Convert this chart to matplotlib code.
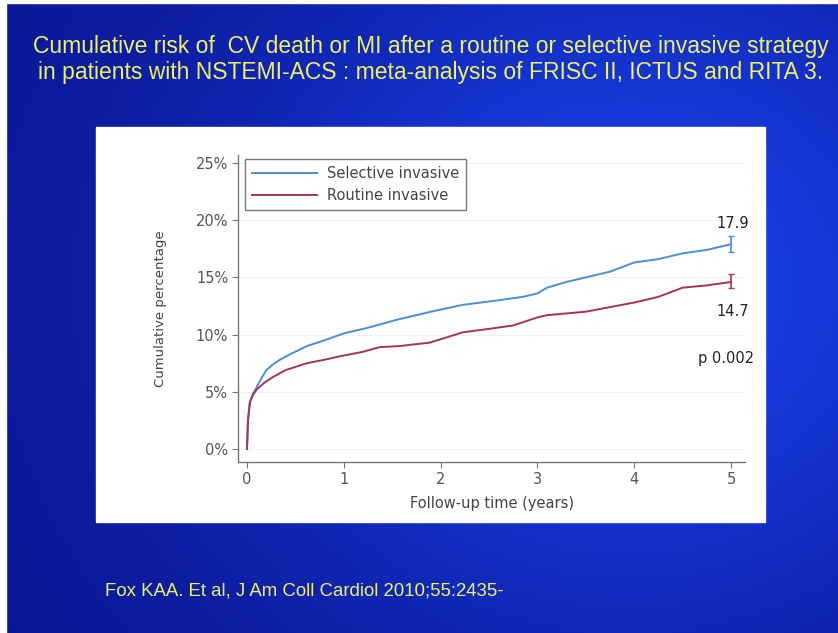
import numpy as np
import matplotlib.pyplot as plt
from matplotlib.patches import Rectangle

# Cumulative risk (years, %)
sel_t = [0, 0.01, 0.03, 0.06, 0.1, 0.15, 0.2, 0.27, 0.34, 0.45, 0.62, 0.8, 1.0, 1.25,
         1.55, 1.9, 2.23, 2.6, 2.85, 3.0, 3.1, 3.3, 3.5, 3.75, 4.0, 4.25, 4.5, 4.75, 5.0]
sel_v = [0, 2.5, 4.1, 4.8, 5.4, 6.2, 6.9, 7.4, 7.8, 8.3, 9.0, 9.5, 10.1, 10.6,
         11.3, 12.0, 12.6, 13.0, 13.3, 13.6, 14.1, 14.6, 15.0, 15.5, 16.3, 16.6, 17.1, 17.4, 17.9]
rou_t = [0, 0.01, 0.03, 0.06, 0.1, 0.18, 0.27, 0.4, 0.62, 0.8, 0.96, 1.2, 1.37, 1.58,
         1.89, 2.23, 2.5, 2.75, 3.0, 3.1, 3.5, 4.0, 4.25, 4.5, 4.75, 5.0]
rou_v = [0, 2.5, 4.1, 4.7, 5.2, 5.8, 6.3, 6.9, 7.5, 7.8, 8.1, 8.5, 8.9, 9.0,
         9.3, 10.2, 10.5, 10.8, 11.5, 11.7, 12.0, 12.8, 13.3, 14.1, 14.3, 14.6]
end_vals = [17.9, 14.7]
end_err = [0.7, 0.6]
p_text = 'p 0.002'
yticks = [0, 5, 10, 15, 20, 25]
xticks = [0, 1, 2, 3, 4, 5]

W, H = 838, 633
fig = plt.figure(figsize=(W / 100, H / 100), dpi=100)

# blue slide background
bg = fig.add_axes([0, 0, 1, 1])
xx, yy = np.meshgrid(np.linspace(0, 1, 200), np.linspace(0, 1, 200))
glow = np.exp(-((xx - 0.75) ** 2) / 0.25 - ((yy - 0.45) ** 2) / 0.35)
r = 0.04 + 0.06 * glow
g = 0.09 + 0.16 * glow
b = 0.58 + 0.33 * glow
bg.imshow(np.dstack([r, g, b]), extent=[0, 1, 0, 1], aspect='auto', origin='upper')
bg.add_patch(Rectangle((0, 0), 6 / W, 1, color='white'))
bg.add_patch(Rectangle((0, 1 - 3 / H), 1, 3 / H, color='white'))
# white chart panel
bg.add_patch(Rectangle((96 / W, 1 - 522 / H), (765 - 96) / W, (522 - 127) / H,
                       color='white'))
bg.set_xlim(0, 1)
bg.set_ylim(0, 1)
bg.axis('off')

yellow = '#eef06a'
lib = ['Liberation Sans', 'DejaVu Sans']
fig.text(33 / W, 1 - 47 / H,
         'Cumulative risk of  CV death or MI after a routine or selective invasive strategy',
         color=yellow, fontsize=16.5, family=lib, va='center', ha='left')
fig.text(38 / W, 1 - 73 / H,
         'in patients with NSTEMI-ACS : meta-analysis of FRISC II, ICTUS and RITA 3.',
         color=yellow, fontsize=16.5, family=lib, va='center', ha='left')
fig.text(105 / W, 1 - 591 / H, 'Fox KAA. Et al, J Am Coll Cardiol 2010;55:2435-',
         color=yellow, fontsize=13.4, family=lib, va='center', ha='left')

# chart
ax = fig.add_axes([238 / W, 1 - 462 / H, (745 - 238) / W, (462 - 155) / H])
ax.set_facecolor('white')
blue = '#4a8fd2'
red = '#a8344e'
ax.plot(sel_t, sel_v, color=blue, lw=1.4, label='Selective invasive')
ax.plot(rou_t, rou_v, color=red, lw=1.4, label='Routine invasive')
ax.errorbar([5], [end_vals[0]], yerr=[end_err[0]], color=blue, capsize=2.5, lw=1.2)
ax.errorbar([5], [end_vals[1]], yerr=[end_err[1]], color=red, capsize=2.5, lw=1.2)
ax.text(5.02, end_vals[0] + 1.77, f'{end_vals[0]}', ha='center', va='center',
        fontsize=10.5, color='#222222')
ax.text(5.02, end_vals[1] - 2.72, f'{end_vals[1]}', ha='center', va='center',
        fontsize=10.5, color='#222222')
ax.text(4.95, 7.95, p_text, ha='center', va='center', fontsize=10.5, color='#222222')

ax.set_xlim(-0.093, 5.145)
ax.set_ylim(-1.14, 25.7)
ax.set_yticks(yticks)
ax.set_yticklabels([f'{v}%' for v in yticks])
ax.set_xticks(xticks)
for v in yticks:
    ax.axhline(v, color='#f0f0f0', lw=0.8, zorder=0)
for s in ['top', 'right']:
    ax.spines[s].set_visible(False)
for s in ['left', 'bottom']:
    ax.spines[s].set_color('#777777')
    ax.spines[s].set_linewidth(1.0)
ax.tick_params(colors='#777777', labelcolor='#555555', labelsize=10.5, length=4,
               pad=3)
ax.set_xlabel('Follow-up time (years)', fontsize=10.5, color='#444444', labelpad=7)
ax.set_ylabel('Cumulative percentage', fontsize=9.5, color='#444444', labelpad=21)

leg = ax.legend(loc='upper left', bbox_to_anchor=(0.014, 0.987), fontsize=10.5,
                handlelength=4.4, fancybox=False, framealpha=1, borderpad=0.5,
                labelspacing=0.45, handletextpad=0.7, borderaxespad=0)
leg.get_frame().set_edgecolor('#777777')
for t in leg.get_texts():
    t.set_color('#444444')

fig.savefig('out.png', dpi=100)
